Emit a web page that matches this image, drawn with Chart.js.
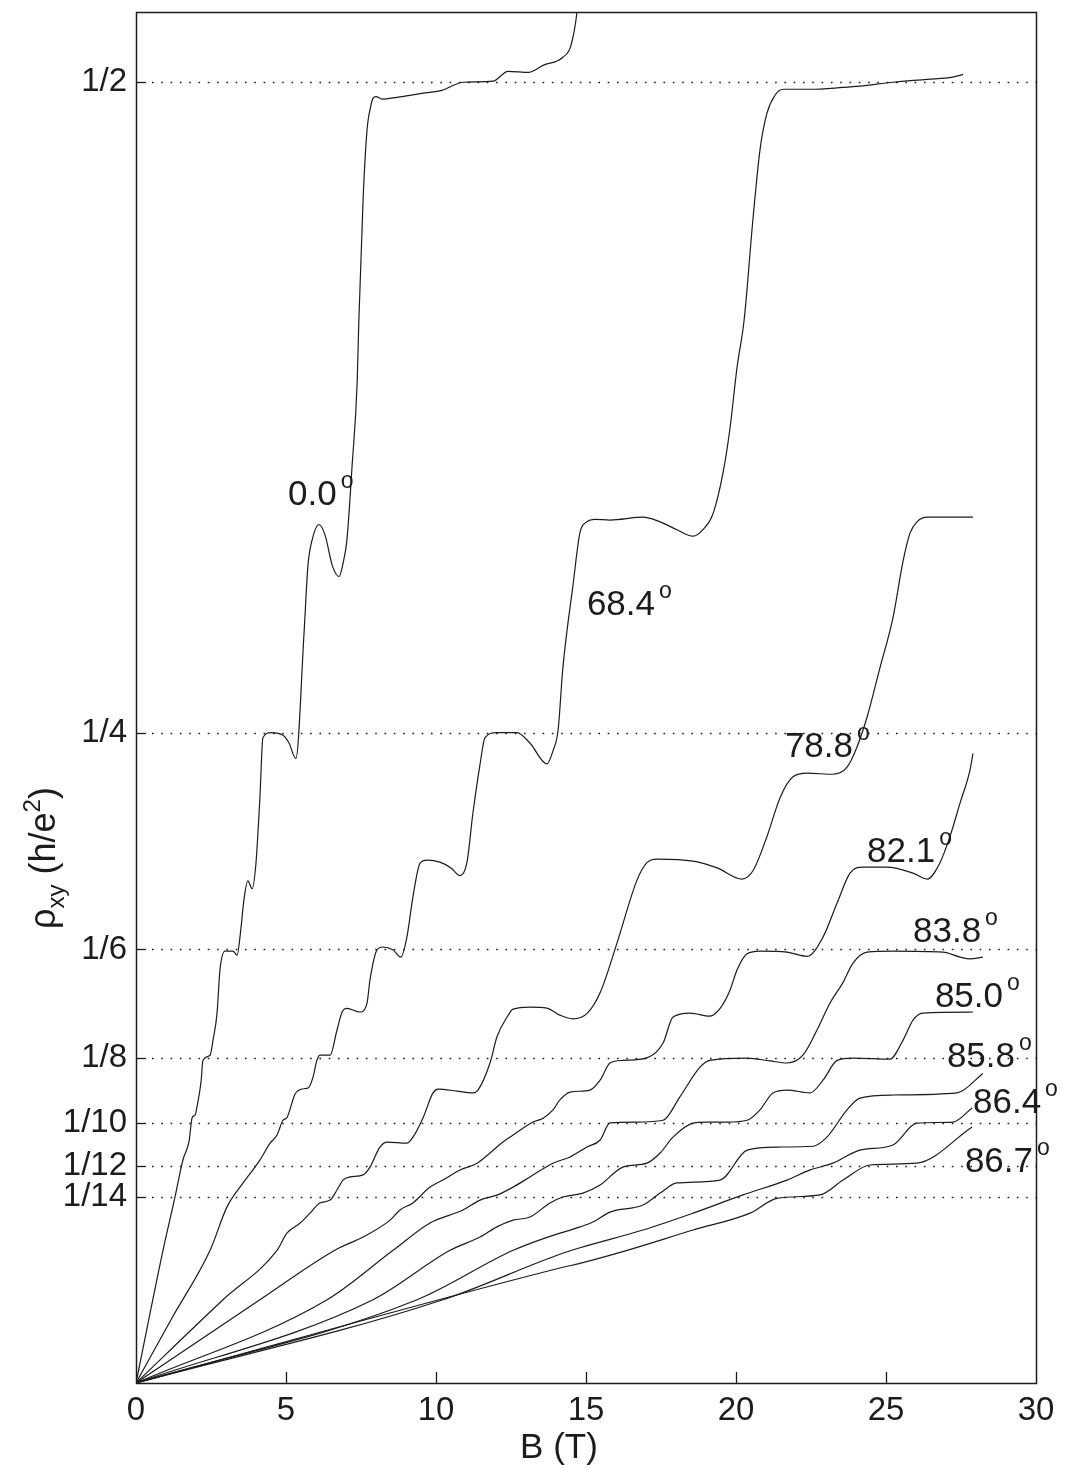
<!DOCTYPE html>
<html>
<head>
<meta charset="utf-8">
<title>Hall resistivity vs field, tilted sample</title>
<script src="https://cdn.jsdelivr.net/npm/chart.js@4.4.1/dist/chart.umd.min.js"></script>
<style>
  html, body { margin: 0; padding: 0; background: #fff; }
  #wrap { width: 1067px; height: 1470px; }
</style>
</head>
<body>
<div id="wrap"><canvas id="hallChart" width="1067" height="1470"></canvas></div>
<script>
// ─── DATA (B in tesla, rho_xy in h/e^2) ─────────────────────
const angleLabels = ['0.0', '68.4', '78.8', '82.1', '83.8', '85.0', '85.8', '86.4', '86.7'];

const curve00 = [[0,0],[0.9,0.051],[1.3,0.0715],[1.47,0.081],[1.57,0.086],[1.77,0.093],[1.87,0.102],[1.97,0.103],
  [2.03,0.106],[2.17,0.116],[2.23,0.124],[2.47,0.126],[2.57,0.132],[2.7,0.142],[2.8,0.159],[2.97,0.166],[3.23,0.166],
  [3.37,0.1645],[3.5,0.175],[3.6,0.186],[3.73,0.193],[3.87,0.190],[4.0,0.2],[4.13,0.225],[4.23,0.248],[4.5,0.250],
  [4.9,0.249],[5.1,0.246],[5.33,0.240],[5.6,0.288],[5.73,0.314],[5.87,0.324],[6.1,0.330],[6.3,0.326],[6.55,0.314],
  [6.77,0.310],[6.9,0.315],[7.03,0.324],[7.2,0.352],[7.37,0.384],[7.43,0.409],[7.57,0.455],[7.7,0.4815],[7.83,0.491],
  [7.9,0.4939],[8.0,0.4945],[8.2,0.4935],[8.7,0.4942],[9.57,0.4958],[10.2,0.4969],[10.9,0.5],[11.9,0.5004],
  [12.4,0.5042],[13.1,0.5038],[13.57,0.5065],[14.23,0.5096],[14.5,0.5142],[14.7,0.527],[14.8,0.54]];

const curve684 = [[0,0],[1.2,0.025],[2.47,0.051],[3.03,0.0676],[3.57,0.0769],[4.13,0.0857],[4.47,0.0922],[4.7,0.0953],
  [4.9,0.101],[5.03,0.102],[5.3,0.111],[5.53,0.113],[5.75,0.1135],[5.9,0.1176],[6.03,0.124],[6.13,0.126],[6.47,0.126],
  [6.7,0.1357],[6.87,0.1426],[7.03,0.144],[7.47,0.1426],[7.7,0.146],[7.8,0.155],[8.03,0.1664],[8.23,0.1676],
  [8.57,0.1664],[8.83,0.1637],[9.03,0.1714],[9.23,0.1868],[9.47,0.1998],[9.7,0.201],[10.13,0.2002],[10.5,0.198],
  [10.8,0.195],[11.03,0.2],[11.23,0.219],[11.47,0.238],[11.63,0.248],[12.03,0.250],[12.7,0.250],[13.13,0.246],
  [13.7,0.238],[13.9,0.243],[14.07,0.251],[14.23,0.275],[14.57,0.307],[14.8,0.327],[15.03,0.331],[15.3,0.332],
  [15.8,0.3317],[16.9,0.3328],[17.47,0.331],[18.03,0.328],[18.57,0.3255],[18.9,0.328],[19.23,0.334],[19.57,0.350],
  [19.8,0.367],[20.03,0.390],[20.27,0.4085],[20.57,0.448],[20.8,0.474],[21.03,0.488],[21.3,0.495],[21.57,0.4973],
  [22.47,0.4973],[23.57,0.498],[24.13,0.4985],[25.23,0.5],[26.37,0.5011],[27.23,0.502],[27.57,0.503]];

const curve788 = [[0,0],[2.9,0.032],[4.7,0.051],[5.03,0.0576],[5.47,0.0615],[5.8,0.0653],[6.13,0.0692],[6.47,0.0703],
  [6.7,0.0742],[6.9,0.078],[7.13,0.0792],[7.57,0.080],[7.8,0.083],[8.13,0.0907],[8.37,0.0926],[9.03,0.0922],
  [9.23,0.0945],[9.57,0.102],[9.9,0.1115],[10.07,0.113],[10.7,0.1122],[11.23,0.1115],[11.4,0.1126],[11.8,0.123],
  [12.03,0.133],[12.37,0.1407],[12.57,0.1437],[13.13,0.1445],[13.7,0.1441],[14.13,0.1414],[14.57,0.140],[15.03,0.142],
  [15.47,0.15],[16.03,0.169],[16.7,0.1933],[17.03,0.2],[17.37,0.2014],[18.57,0.2006],[19.37,0.198],[20.2,0.1937],
  [20.57,0.197],[21.03,0.21],[21.47,0.225],[21.9,0.233],[22.37,0.2344],[23.23,0.234],[23.7,0.2367],[24.03,0.2444],
  [24.37,0.256],[24.8,0.275],[25.23,0.294],[25.57,0.316],[25.8,0.3267],[26.03,0.331],[26.37,0.3328],[26.9,0.3328],
  [27.9,0.3328]];

const curve821 = [[0,0],[4.13,0.032],[6.7,0.0515],[7.57,0.0561],[8.47,0.0626],[8.8,0.0665],[9.23,0.0692],[9.8,0.0753],
  [10.23,0.078],[10.8,0.0819],[11.37,0.0845],[11.8,0.0884],[12.23,0.0926],[12.57,0.0953],[13.23,0.1003],[13.57,0.1018],
  [13.9,0.105],[14.13,0.1088],[14.47,0.1118],[15.13,0.1126],[15.47,0.1164],[15.8,0.123],[16.23,0.124],[17.03,0.125],
  [17.57,0.1307],[17.9,0.1407],[18.47,0.1422],[19.13,0.141],[19.47,0.144],[19.8,0.151],[20.03,0.1587],[20.37,0.165],
  [20.8,0.166],[21.7,0.1656],[22.37,0.164],[22.9,0.1714],[23.37,0.1845],[23.8,0.196],[24.23,0.1983],[25.03,0.1983],
  [25.9,0.196],[26.37,0.1937],[26.8,0.2],[27.13,0.21],[27.47,0.223],[27.8,0.2356],[27.9,0.242]];

const curve838 = [[0,0],[6.37,0.032],[8.57,0.051],[9.8,0.0615],[10.9,0.0665],[11.47,0.0703],[12.03,0.0722],
  [12.57,0.0753],[13.13,0.0792],[13.9,0.0845],[14.47,0.0869],[15.03,0.0907],[15.47,0.0934],[15.8,0.1],[16.7,0.1003],
  [17.57,0.101],[18.13,0.11],[18.8,0.1214],[19.13,0.124],[20.37,0.1249],[21.13,0.1238],[21.7,0.123],[22.23,0.126],
  [22.7,0.1357],[23.13,0.146],[23.57,0.154],[23.9,0.1614],[24.37,0.1656],[25.23,0.166],[26.9,0.1656],[27.47,0.1637],
  [27.8,0.163],[28.23,0.1637]];

const curve850 = [[0,0],[7.9,0.032],[10.47,0.051],[11.47,0.0561],[12.03,0.06],[12.57,0.0626],[13.13,0.0638],
  [13.8,0.0692],[14.23,0.0715],[14.9,0.073],[15.47,0.0761],[16.23,0.083],[17.03,0.0845],[17.47,0.0884],[17.9,0.0945],
  [18.57,0.0999],[19.03,0.1003],[19.7,0.1003],[20.37,0.101],[20.8,0.105],[21.23,0.1115],[21.7,0.1126],[22.47,0.1115],
  [22.9,0.1164],[23.37,0.124],[23.9,0.1249],[25.13,0.1245],[25.57,0.1318],[25.9,0.1395],[26.23,0.1422],[27.9,0.1426]];

const curve858 = [[0,0],[9.37,0.032],[12.57,0.051],[13.7,0.056],[14.8,0.06],[15.23,0.0619],[15.8,0.0657],
  [16.9,0.0684],[17.47,0.073],[18.03,0.0769],[19.47,0.078],[20.37,0.0895],[21.37,0.0907],[22.57,0.091],[23.03,0.0945],
  [23.7,0.105],[24.13,0.1095],[25.23,0.1107],[27.37,0.1115],[28.23,0.119]];

const curve864 = [[0,0],[10.23,0.032],[14.13,0.0495],[14.8,0.052],[16.9,0.0588],[18.57,0.0653],[20.23,0.0723],
  [21.7,0.078],[22.47,0.0819],[23.23,0.0845],[24.13,0.0895],[25.23,0.0915],[26.03,0.0999],[27.23,0.1003],[27.87,0.1057]];

const curve867 = [[0,0],[14.13,0.0442],[14.8,0.046],[16.37,0.051],[18.57,0.0588],[20.47,0.0653],[21.37,0.071],
  [22.8,0.0723],[23.57,0.078],[24.47,0.0838],[26.03,0.0845],[27.87,0.0984]];

const curves = [curve00, curve684, curve788, curve821, curve838, curve850, curve858, curve864, curve867];

const yTickValues = [1/14, 1/12, 1/10, 1/8, 1/6, 1/4, 1/2];
const yTickLabels = ['1/14', '1/12', '1/10', '1/8', '1/6', '1/4', '1/2'];
const xTickValues = [0, 5, 10, 15, 20, 25, 30];

// where each angle label sits (left edge / baseline, in data units)
const labelAnchors = [[5.07,0.3374],[15.03,0.2952],[21.63,0.2406],[24.37,0.2002],[25.9,0.1695],
  [26.63,0.1445],[27.03,0.1214],[27.9,0.1038],[27.63,0.0811]];

// ─── STYLE ─────────────────────────────────────────────────
const FONT = '"Liberation Sans", Arial, Helvetica, sans-serif';
const INK  = '#1c1c1c';

// ─── FRAME, DOTTED 1/n LINES, TICKS, TEXT ─────────────────
const framePlugin = {
  id: 'frame',
  beforeDatasetsDraw(chart) {
    const { ctx, chartArea: a, scales: { x, y } } = chart;
    ctx.save();
    ctx.strokeStyle = INK;
    ctx.lineWidth = 1.3;

    yTickValues.forEach(v => {
      const py = Math.round(y.getPixelForValue(v)) + 0.5;
      ctx.setLineDash([]);
      ctx.beginPath(); ctx.moveTo(a.left, py); ctx.lineTo(a.left + 10, py); ctx.stroke();
      ctx.setLineDash([1.6, 7.7]);
      ctx.beginPath(); ctx.moveTo(a.left + 16, py); ctx.lineTo(a.right, py); ctx.stroke();
    });

    ctx.setLineDash([]);
    xTickValues.slice(1, -1).forEach(v => {
      const px = Math.round(x.getPixelForValue(v)) + 0.5;
      ctx.beginPath(); ctx.moveTo(px, a.bottom); ctx.lineTo(px, a.bottom - 11); ctx.stroke();
    });

    ctx.lineWidth = 1.5;
    ctx.strokeRect(a.left + 0.5, a.top + 0.5, a.right - a.left, a.bottom - a.top);
    ctx.restore();
  },

  afterDraw(chart) {
    const { ctx, scales: { x, y } } = chart;
    ctx.save();
    ctx.fillStyle = INK;
    ctx.textBaseline = 'alphabetic';
    ctx.textAlign = 'left';

    // angle labels with raised "o"
    labelAnchors.forEach(([b, r], i) => {
      const px = x.getPixelForValue(b);
      const py = y.getPixelForValue(r);
      ctx.font = `35px ${FONT}`;
      ctx.fillText(angleLabels[i], px, py);
      const w = ctx.measureText(angleLabels[i]).width;
      ctx.font = `23px ${FONT}`;
      ctx.fillText('o', px + w + 4, py - 17);
    });

    // x title
    ctx.font = `35px ${FONT}`;
    ctx.textAlign = 'center';
    ctx.fillText('B (T)', 559, 1458);

    // y title, rotated
    ctx.translate(55, 858);
    ctx.rotate(-Math.PI / 2);
    const parts = [
      ['\u03C1', 36, 0], ['xy', 24, 9], [' (h/e', 36, 0], ['2', 24, -15], [')', 36, 0],
    ];
    let total = 0;
    parts.forEach(([t, s]) => { ctx.font = `${s}px ${FONT}`; total += ctx.measureText(t).width; });
    let cx = -total / 2;
    ctx.textAlign = 'left';
    parts.forEach(([t, s, dy]) => {
      ctx.font = `${s}px ${FONT}`;
      ctx.fillText(t, cx, dy);
      cx += ctx.measureText(t).width;
    });
    ctx.restore();
  },
};

// ─── CHART ────────────────────────────────────────────────
const canvas = document.getElementById('hallChart');

new Chart(canvas, {
  type: 'scatter',
  data: {
    datasets: curves.map((c, i) => ({
      label: angleLabels[i],
      data: c.map(([b, r]) => ({ x: b, y: r })),
      showLine: true,
      borderColor: INK,
      borderWidth: 1.2,
      pointRadius: 0,
      cubicInterpolationMode: 'monotone',
      fill: false,
    })),
  },
  options: {
    responsive: false,
    animation: false,
    devicePixelRatio: 1,
    layout: { padding: { top: 12, right: 31, left: 0, bottom: 0 } },
    plugins: { legend: { display: false }, tooltip: { enabled: false } },
    scales: {
      x: {
        type: 'linear',
        min: 0,
        max: 30,
        afterBuildTicks: s => { s.ticks = xTickValues.map(v => ({ value: v })); },
        afterFit: s => { s.height = 87; s.paddingLeft = 0; s.paddingRight = 0; },
        grid: { display: false, drawTicks: false },
        border: { display: false },
        ticks: { color: INK, font: { family: FONT, size: 33 }, padding: 8, maxRotation: 0, autoSkip: false },
      },
      y: {
        type: 'linear',
        min: 0,
        max: 0.527,
        afterBuildTicks: s => { s.ticks = yTickValues.map(v => ({ value: v })); },
        afterFit: s => { s.width = 136; s.paddingTop = 0; s.paddingBottom = 0; },
        grid: { display: false, drawTicks: false },
        border: { display: false },
        ticks: {
          color: INK,
          font: { family: FONT, size: 33 },
          padding: 9,
          autoSkip: false,
          callback: (v, i) => yTickLabels[i],
        },
      },
    },
  },
  plugins: [framePlugin],
});
</script>
</body>
</html>
